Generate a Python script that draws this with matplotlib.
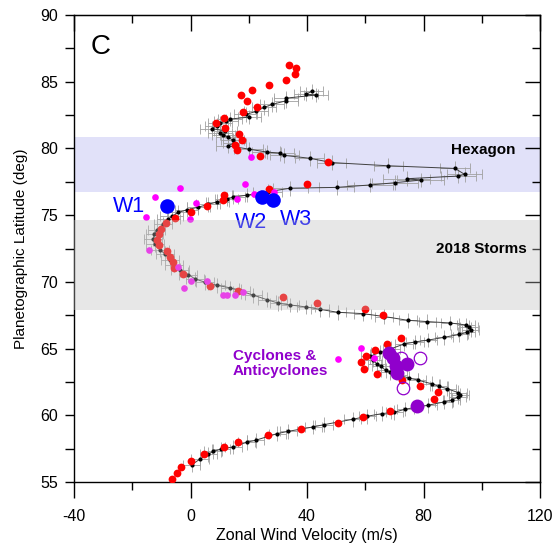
import numpy as np
import matplotlib.pyplot as plt
from matplotlib.ticker import MultipleLocator

plt.rcParams['font.family'] = ['Liberation Sans', 'DejaVu Sans']
plt.rcParams['axes.unicode_minus'] = False

# mean wind profile (black points with error bars)
prof_lat = [56.28, 56.73, 57.08, 57.30, 57.46, 57.63, 57.98, 58.13, 58.63, 58.80,
            59.13, 59.30, 59.70, 59.93, 60.13, 60.23, 60.46, 60.75, 61.00, 61.13,
            61.36, 61.53, 61.70, 62.00, 62.16, 62.36, 62.64, 62.79, 63.00, 63.24,
            63.36, 63.66, 63.86, 64.16, 64.41, 64.74, 65.00, 65.34, 65.50, 65.64,
            65.84, 66.06, 66.21, 66.42, 66.59, 66.77, 66.92, 67.02, 67.12, 67.40,
            67.62, 67.72, 67.94, 68.12, 68.27, 68.40, 68.67, 69.00, 69.30, 69.55,
            69.75, 69.97, 70.22, 70.55, 70.90, 71.30, 71.67, 72.10, 72.40, 72.80,
            73.20, 73.55, 73.90, 74.30, 74.70, 74.90, 75.20, 75.40, 75.60, 75.80,
            76.00, 76.20, 76.35, 76.50, 76.75, 77.02, 77.08, 77.26, 77.43, 77.63,
            77.73, 77.93, 78.06, 78.50, 78.70, 78.94, 79.26, 79.48, 79.64, 79.73,
            79.95, 80.20, 80.40, 80.63, 80.85, 81.00, 81.15, 81.30, 81.49, 81.70,
            81.89, 82.05, 82.20, 82.35, 82.55, 82.77, 83.07, 83.30, 83.57, 83.77,
            84.00, 84.07, 84.27]
prof_u = [0.4, 3.3, 6.1, 7.8, 10.4, 14.7, 19.3, 22.4, 29.8, 33.6,
          42.2, 45.9, 55.7, 60.7, 65.9, 70.0, 73.8, 81.5, 87.0, 89.7,
          91.7, 92.5, 91.9, 88.0, 85.4, 82.8, 78.0, 75.1, 71.5, 68.5,
          67.1, 65.4, 63.9, 62.6, 61.6, 65.1, 69.0, 73.3, 77.1, 81.7,
          87.0, 92.3, 94.8, 96.2, 95.7, 94.6, 89.1, 81.3, 74.6, 66.5,
          59.1, 50.5, 44.5, 39.7, 34.2, 30.2, 26.2, 21.6, 17.5, 13.6,
          9.0, 5.0, 1.6, -0.8, -3.6, -5.6, -7.0, -8.8, -10.5, -12.2,
          -12.8, -12.4, -11.6, -9.5, -7.6, -6.5, -4.2, -1.3, 2.7, 6.0,
          9.2, 12.4, 14.7, 19.3, 26.5, 34.2, 50.2, 61.6, 70.2, 79.0,
          74.2, 92.0, 94.1, 90.8, 67.9, 48.5, 41.0, 32.2, 30.7, 26.2,
          20.0, 12.8, 15.0, 14.5, 12.8, 11.3, 10.1, 12.0, 7.3, 9.0,
          10.1, 12.2, 13.6, 20.2, 19.0, 22.5, 25.2, 28.0, 32.8, 32.8,
          43.1, 39.7, 41.6]
prof_du = [3] * 74 + [4] * 9 + [5, 5, 6, 6, 8, 8, 8, 8, 6, 6, 5, 5, 5, 5, 5, 5, 5, 5] + [4] * 22

# other measurements (red)
red_u = [-6.2, -4.7, -3.4, 0.2, 4.7, 11.6, 16.4, 26.5, 37.8, 50.7, 59.3, 68.5,
         83.7, 85.0, 78.8, 72.5, 63.9, 59.5, 58.4, 60.4, 63.3, 67.4, 72.2, 66.2,
         59.9, 43.5, 31.7, 16.3, 6.7, -2.7, -5.6, -5.9, -7.0, -8.2, -10.7, -11.4,
         -10.9, -10.1, -8.4, -5.4, 0.1, 5.8, 11.1, 11.5, 27.1, 39.9,
         47.3, 23.9, 15.9, 15.4, 17.6, 16.8, 11.8, 8.7, 11.5, 17.9, 22.7, 19.3,
         17.3, 21.0, 27.1, 32.8, 36.0, 36.2, 33.9]
red_lat = [55.2, 55.7, 56.15, 56.6, 57.1, 57.6, 58.0, 58.5, 59.0, 59.4, 59.9, 60.35,
           61.23, 61.71, 62.16, 62.61, 63.08, 63.5, 63.96, 64.44, 64.86, 65.32, 65.77, 67.49,
           67.99, 68.42, 68.87, 69.35, 69.72, 70.6, 71.05, 71.47, 71.85, 72.3, 72.73, 73.1,
           73.55, 73.98, 74.43, 74.8, 75.26, 75.68, 76.13, 76.5, 76.98, 77.36,
           79.0, 79.43, 79.86, 80.24, 80.66, 81.06, 81.51, 81.89, 82.29, 82.74, 83.14, 83.57,
           83.99, 84.37, 84.77, 85.14, 85.57, 86.0, 86.25]

# magenta points
mag_u = [20.8, -3.6, -12.2, -15.4, 1.9, -0.2, 18.7, 16.1, 21.8, 28.8,
         -14.1, -4.2, 0.1, -2.1, 5.8, 11.0, 12.6, 15.3, 17.9,
         50.8, 58.5, 63.0]
mag_lat = [79.36, 77.06, 76.36, 74.85, 75.93, 74.68, 77.37, 76.24, 76.56, 76.76,
           72.38, 71.13, 70.04, 69.55, 70.04, 69.05, 69.05, 69.05, 69.25,
           64.2, 65.02, 64.33]

# cyclones / anticyclones
cyc_u = [68.3, 69.4, 70.5, 70.8, 74.4, 77.8]
cyc_lat = [64.66, 64.28, 63.71, 63.16, 63.84, 60.71]
anti_u = [72.4, 78.8, 72.9]
anti_lat = [64.32, 64.32, 62.04]

# W1, W2, W3
w_u = [-8.2, 24.4, 28.4]
w_lat = [75.68, 76.35, 76.1]

hexagon_band = (76.73, 80.86)
storms_band = (67.87, 74.63)

purple = '#9000cc'

fig = plt.figure(figsize=(5.56, 5.48), dpi=100)
ax = fig.add_axes([74 / 556, 1 - 482 / 548, 466 / 556, 467 / 548])

ax.axhspan(*hexagon_band, color='#e1e1f9', lw=0, zorder=0)

ax.errorbar(prof_u, prof_lat, xerr=prof_du, fmt='none', ecolor='#a0a0a0',
            elinewidth=0.6, capsize=3.5, capthick=0.6, zorder=1)
ax.errorbar(prof_u, prof_lat, yerr=0.55, fmt='none', ecolor='#a0a0a0',
            elinewidth=0.6, capsize=0, zorder=1)
ax.plot(prof_u, prof_lat, '-', color='#404040', lw=0.7, zorder=2)
ax.plot(prof_u, prof_lat, 'o', color='black', ms=3, mew=0, zorder=3)

ax.plot(red_u, red_lat, 'o', color='#ff0000', ms=5.6, mew=0, zorder=4)
ax.plot(mag_u, mag_lat, 'o', color='#ff00ff', ms=4.8, mew=0, zorder=4)
ax.plot(cyc_u, cyc_lat, 'o', color=purple, ms=10, mew=0, zorder=5)
ax.plot(anti_u, anti_lat, 'o', mfc='none', mec=purple, ms=9, mew=0.9, zorder=5)
ax.plot(w_u, w_lat, 'o', color='#0000ff', ms=10.5, mew=0, zorder=5)

ax.axhspan(*storms_band, color='#bebebe', alpha=0.36, lw=0, zorder=6)

ax.text(-31, 87.6, 'C', fontsize=20, ha='center', va='center')
ax.text(111.5, 79.9, 'Hexagon', fontsize=11, fontweight='bold', ha='right', va='center', zorder=7)
ax.text(115.5, 72.5, '2018 Storms', fontsize=11, fontweight='bold', ha='right', va='center', zorder=7)
ax.text(14.5, 63.9, 'Cyclones &\nAnticyclones', fontsize=11, fontweight='bold',
        color=purple, ha='left', va='center', linespacing=1.1, zorder=7)
ax.text(-21.1, 75.65, 'W1', fontsize=15.5, color='#0000ff', ha='center', va='center')
ax.text(20.8, 74.45, 'W2', fontsize=15.5, color='#0000ff', ha='center', va='center')
ax.text(36.2, 74.68, 'W3', fontsize=15.5, color='#0000ff', ha='center', va='center')

ax.set_xlim(-40, 120)
ax.set_ylim(55, 90)
ax.xaxis.set_major_locator(MultipleLocator(40))
ax.xaxis.set_minor_locator(MultipleLocator(20))
ax.yaxis.set_major_locator(MultipleLocator(5))
ax.yaxis.set_minor_locator(MultipleLocator(2.5))
ax.tick_params(axis='x', which='major', direction='out', length=11.5, width=1, labelsize=11.5, pad=8)
ax.tick_params(axis='x', which='minor', direction='out', length=6, width=1)
ax.tick_params(axis='y', which='both', direction='out', length=6.5, width=1, labelsize=11.5, pad=5)
for s in ax.spines.values():
    s.set_linewidth(1)

top = ax.secondary_xaxis('top')
top.xaxis.set_major_locator(MultipleLocator(40))
top.xaxis.set_minor_locator(MultipleLocator(20))
top.tick_params(which='major', direction='in', length=11.5, width=1, labeltop=False)
top.tick_params(which='minor', direction='in', length=6, width=1)
right = ax.secondary_yaxis('right')
right.yaxis.set_major_locator(MultipleLocator(5))
right.yaxis.set_minor_locator(MultipleLocator(2.5))
right.tick_params(which='major', direction='in', length=11, width=1, labelright=False)
right.tick_params(which='minor', direction='in', length=6, width=1)

ax.set_xlabel('Zonal Wind Velocity (m/s)', fontsize=11.5, labelpad=3)
ax.set_ylabel('Planetographic Latitude (deg)', fontsize=11, labelpad=8.5)

fig.savefig('out.png', dpi=100)
